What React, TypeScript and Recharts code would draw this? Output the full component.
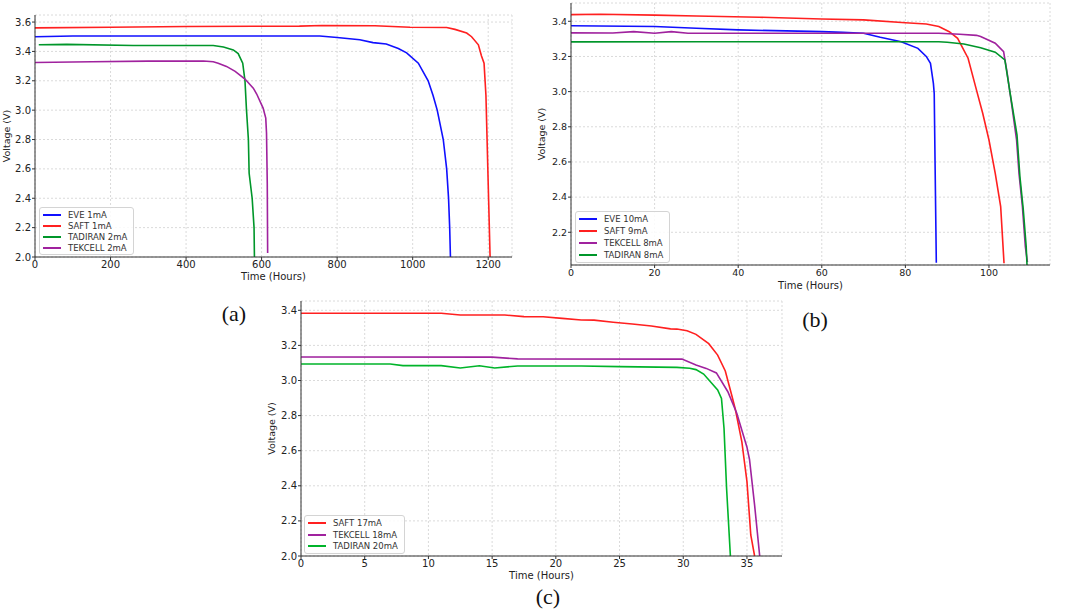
import { LineChart, Line, XAxis, YAxis, CartesianGrid, Legend } from 'recharts';

// [hours, volts]
const eve1mA = [[0, 3.5], [100, 3.505], [300, 3.505], [500, 3.505], [754, 3.505], [800, 3.495], [860, 3.48], [895, 3.46], [930, 3.45], [962, 3.42], [984, 3.39], [1015, 3.32], [1041, 3.2], [1054, 3.1], [1065, 3.0], [1081, 2.8], [1090, 2.6], [1095, 2.4], [1098, 2.2], [1100, 2.0]];
const saft1mA = [[0, 3.56], [200, 3.565], [400, 3.57], [700, 3.572], [760, 3.576], [900, 3.575], [993, 3.565], [1090, 3.563], [1112, 3.55], [1143, 3.525], [1156, 3.5], [1174, 3.445], [1182, 3.37], [1189, 3.32], [1194, 3.1], [1197, 2.8], [1201, 2.4], [1203, 2.2], [1205, 2.0]];
const tadiran2mA = [[10, 3.445], [84, 3.448], [260, 3.44], [472, 3.44], [499, 3.43], [525, 3.41], [538, 3.385], [550, 3.32], [556, 3.2], [560, 3.0], [565, 2.8], [567, 2.57], [575, 2.4], [580, 2.2], [581, 2.0]];
const tekcell2mA = [[0, 3.325], [150, 3.33], [300, 3.334], [446, 3.335], [472, 3.33], [485, 3.32], [507, 3.298], [530, 3.264], [556, 3.212], [578, 3.15], [587, 3.11], [604, 3.014], [611, 2.946], [613, 2.844], [615, 2.5], [616, 2.027]];

const eve10mA = [[0, 3.375], [20, 3.37], [30, 3.36], [40, 3.351], [60, 3.341], [65, 3.337], [70, 3.332], [74, 3.309], [79, 3.284], [83, 3.246], [85, 3.2], [86, 3.161], [86.7, 3.047], [86.9, 2.99], [87.1, 2.6], [87.4, 2.027]];
const saft9mA = [[0, 3.438], [7, 3.44], [20, 3.435], [30, 3.43], [45, 3.423], [60, 3.413], [70, 3.408], [80, 3.392], [85, 3.385], [88, 3.37], [90.5, 3.341], [92.5, 3.303], [95, 3.19], [97, 3.01], [98.5, 2.877], [100, 2.725], [101.5, 2.535], [102.8, 2.346], [103.6, 2.024]];
const tekcell8mA = [[0, 3.334], [10, 3.333], [15, 3.341], [20, 3.332], [24, 3.341], [28, 3.332], [50, 3.332], [88, 3.332], [93, 3.326], [97, 3.32], [98, 3.313], [101.5, 3.275], [103.5, 3.227], [104.3, 3.114], [105.5, 2.915], [106.6, 2.725], [107.2, 2.53], [108, 2.346], [108.7, 2.118], [109.2, 2.03]];
const tadiran8mA = [[0, 3.283], [30, 3.284], [60, 3.284], [88, 3.284], [90, 3.281], [94, 3.271], [98, 3.25], [101.5, 3.224], [103.8, 3.18], [105, 3.0], [106.7, 2.754], [107.4, 2.517], [108.2, 2.33], [108.9, 2.12], [109.1, 2.014]];

const saft17mA = [[0, 3.383], [11, 3.383], [12.5, 3.373], [16, 3.373], [17.5, 3.364], [19, 3.363], [20.5, 3.354], [22, 3.345], [23, 3.344], [24.5, 3.332], [26, 3.322], [27.5, 3.311], [29, 3.294], [29.5, 3.293], [30.3, 3.284], [31, 3.263], [32, 3.21], [32.7, 3.145], [33.3, 3.054], [33.8, 2.917], [34.1, 2.832], [34.6, 2.65], [35, 2.424], [35.3, 2.12], [35.6, 2.0]];
const tekcell18mA = [[0, 3.134], [15, 3.133], [17, 3.123], [29.9, 3.122], [31, 3.088], [31.8, 3.069], [32.6, 3.043], [33.5, 2.936], [34.2, 2.813], [35, 2.62], [35.2, 2.55], [35.6, 2.29], [36, 2.0]];
const tadiran20mA = [[0, 3.094], [7, 3.094], [8, 3.085], [11, 3.085], [12.5, 3.071], [14, 3.084], [15.2, 3.071], [17, 3.083], [22, 3.083], [25, 3.079], [29.5, 3.075], [30.5, 3.07], [31, 3.062], [31.6, 3.037], [32.7, 2.946], [33, 2.898], [33.2, 2.727], [33.4, 2.386], [33.7, 2.0]];

const ticksA = { x: [0, 200, 400, 600, 800, 1000, 1200], y: [2.0, 2.2, 2.4, 2.6, 2.8, 3.0, 3.2, 3.4, 3.6] };
const ticksB = { x: [0, 20, 40, 60, 80, 100], y: [2.2, 2.4, 2.6, 2.8, 3.0, 3.2, 3.4] };
const ticksC = { x: [0, 5, 10, 15, 20, 25, 30, 35], y: [2.0, 2.2, 2.4, 2.6, 2.8, 3.0, 3.2, 3.4] };

const toPoints = (rows: number[][]) => rows.map(([t, v]) => ({ t, v }));

const FONT = '"DejaVu Sans", sans-serif';
const AXIS = '#333';

type Series = { name: string; color: string; rows: number[][] };

// recharts sorts legend items by name, so keep the order of the series list
const renderLegend = (series: Series[], rowGap: number) => (props: any) => {
  const items = series.filter((s) => (props.payload || []).some((e: any) => e.value === s.name));
  return (
    <div
      style={{
        display: 'inline-block',
        background: 'rgba(255,255,255,0.85)',
        border: '1px solid #d4d4d4',
        borderRadius: 3,
        padding: '1px 6px 1px 3px',
        fontFamily: FONT,
        fontSize: 8.5,
        color: '#333',
        whiteSpace: 'nowrap',
      }}
    >
      {items.map((s) => (
        <div key={s.name} style={{ display: 'flex', alignItems: 'center', height: rowGap }}>
          <span style={{ display: 'inline-block', width: 18, height: 0, borderTop: `2px solid ${s.color}`, marginRight: 7 }} />
          <span>{s.name}</span>
        </div>
      ))}
    </div>
  );
};

interface PanelProps {
  left: number;
  top: number;
  width: number;
  height: number;
  margin: { top: number; right: number; bottom: number; left: number };
  yWidth: number;
  xHeight: number;
  xDomain: number[];
  yDomain: number[];
  ticks: { x: number[]; y: number[] };
  tickSize: number;
  xLabelOffset: number;
  yLabelOffset: number;
  series: Series[];
  legend: { left: number; top: number; rowGap: number };
}

const Panel = (p: PanelProps) => (
  <div style={{ position: 'absolute', left: p.left, top: p.top }}>
    <LineChart width={p.width} height={p.height} margin={p.margin}>
      <CartesianGrid stroke="#dadada" strokeDasharray="2 2" />
      <XAxis
        type="number"
        dataKey="t"
        domain={p.xDomain}
        ticks={p.ticks.x}
        allowDataOverflow
        height={p.xHeight}
        stroke={AXIS}
        tickSize={3}
        tickMargin={1}
        tick={{ fill: '#222', fontSize: p.tickSize, fontFamily: FONT }}
        label={{ value: 'Time (Hours)', position: 'insideBottom', offset: p.xLabelOffset, style: { fill: '#222', fontSize: 10, fontFamily: FONT } }}
      />
      <YAxis
        type="number"
        dataKey="v"
        domain={p.yDomain}
        ticks={p.ticks.y}
        allowDataOverflow
        width={p.yWidth}
        stroke={AXIS}
        tickSize={3}
        tickMargin={1}
        tickFormatter={(v: number) => v.toFixed(1)}
        tick={{ fill: '#222', fontSize: p.tickSize, fontFamily: FONT }}
        label={{ value: 'Voltage (V)', angle: -90, position: 'insideLeft', offset: p.yLabelOffset, style: { textAnchor: 'middle', fill: '#222', fontSize: 9.5, fontFamily: FONT } }}
      />
      {p.series.map((s) => (
        <Line
          key={s.name}
          data={toPoints(s.rows)}
          dataKey="v"
          name={s.name}
          type="linear"
          stroke={s.color}
          strokeWidth={1.6}
          dot={false}
          isAnimationActive={false}
        />
      ))}
      <Legend
        layout="vertical"
        align="center"
        verticalAlign="middle"
        content={renderLegend(p.series, p.legend.rowGap)}
        wrapperStyle={{ left: p.legend.left, top: p.legend.top, width: 'auto', bottom: 'auto', right: 'auto' }}
      />
    </LineChart>
  </div>
);

const panelLabel = (text: string, x: number, y: number) => (
  <div
    style={{
      position: 'absolute',
      left: x - 30,
      top: y - 14,
      width: 60,
      textAlign: 'center',
      fontFamily: '"Liberation Serif", "Times New Roman", serif',
      fontSize: 22,
      lineHeight: '28px',
      color: '#111',
    }}
  >
    {text}
  </div>
);

export default function App() {
  return (
    <div style={{ position: 'absolute', left: 0, top: 0, width: 1065, height: 610, background: '#fff', overflow: 'hidden' }}>
      <Panel
        left={0}
        top={0}
        width={520}
        height={290}
        margin={{ top: 15, right: 8, bottom: 0, left: 0 }}
        yWidth={35}
        xHeight={33}
        xDomain={[0, 1263]}
        yDomain={[2.0, 3.648]}
        ticks={ticksA}
        tickSize={10}
        xLabelOffset={10}
        yLabelOffset={7}
        series={[
          { name: 'EVE 1mA', color: '#1010ff', rows: eve1mA },
          { name: 'SAFT 1mA', color: '#ff2020', rows: saft1mA },
          { name: 'TADIRAN 2mA', color: '#00962a', rows: tadiran2mA },
          { name: 'TEKCELL 2mA', color: '#a0229e', rows: tekcell2mA },
        ]}
        legend={{ left: 39, top: 207, rowGap: 11 }}
      />
      <Panel
        left={530}
        top={0}
        width={535}
        height={300}
        margin={{ top: 3, right: 15, bottom: 0, left: 0 }}
        yWidth={41}
        xHeight={35}
        xDomain={[0, 114.6]}
        yDomain={[2.014, 3.504]}
        ticks={ticksB}
        tickSize={9.5}
        xLabelOffset={11}
        yLabelOffset={12}
        series={[
          { name: 'EVE 10mA', color: '#1010ff', rows: eve10mA },
          { name: 'SAFT 9mA', color: '#ff2020', rows: saft9mA },
          { name: 'TEKCELL 8mA', color: '#a0229e', rows: tekcell8mA },
          { name: 'TADIRAN 8mA', color: '#00962a', rows: tadiran8mA },
        ]}
        legend={{ left: 45, top: 211, rowGap: 12 }}
      />
      <Panel
        left={260}
        top={295}
        width={525}
        height={291}
        margin={{ top: 6, right: 3, bottom: 0, left: 0 }}
        yWidth={41}
        xHeight={30}
        xDomain={[0, 37.75]}
        yDomain={[2.0, 3.453]}
        ticks={ticksC}
        tickSize={10}
        xLabelOffset={7}
        yLabelOffset={12}
        series={[
          { name: 'SAFT 17mA', color: '#ff2020', rows: saft17mA },
          { name: 'TEKCELL 18mA', color: '#a0229e', rows: tekcell18mA },
          { name: 'TADIRAN 20mA', color: '#00b42a', rows: tadiran20mA },
        ]}
        legend={{ left: 44, top: 220, rowGap: 11.7 }}
      />
      {panelLabel('(a)', 234, 314)}
      {panelLabel('(b)', 815, 320)}
      {panelLabel('(c)', 548, 597)}
    </div>
  );
}
